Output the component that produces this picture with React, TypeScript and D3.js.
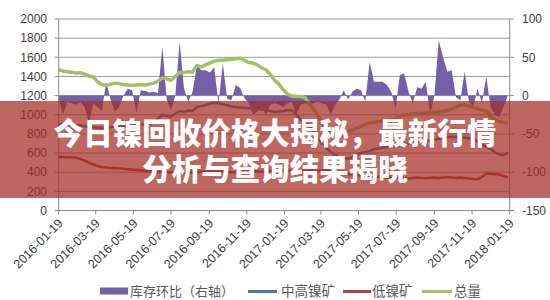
import React from "react";
import * as d3 from "d3";

const startDate = "2016-01-19";
const endDate = "2018-01-19";
const tickLabels = [
  "2016-01-19","2016-03-19","2016-05-19","2016-07-19","2016-09-19","2016-11-19",
  "2017-01-19","2017-03-19","2017-05-19","2017-07-19","2017-09-19","2017-11-19","2018-01-19",
];
const leftTicks = [0, 200, 400, 600, 800, 1000, 1200, 1400, 1600, 1800, 2000];
const rightTicks = [-150, -100, -50, 0, 50, 100];

// weekly observations starting 2016-01-19
const totalSeries = [
  1470,1455,1450,1445,1435,1440,1425,1405,1395,1345,1315,1305,1320,1330,1325,1315,1310,1305,1310,1315,
  1310,1320,1330,1350,1385,1375,1360,1400,1445,1440,1450,1445,1515,1500,1520,1540,1560,1570,1570,1575,
  1580,1585,1590,1570,1545,1540,1520,1490,1470,1420,1360,1320,1260,1215,1195,1190,1190,1180,1120,1060,
  1000,920,840,820,830,825,835,830,840,860,880,900,915,920,930,935,940,945,960,985,
  1000,1000,1010,1015,1010,1020,1025,1020,1030,1035,1045,1060,1080,1100,1105,1090,1075,1060,1050,1040,
  985,945,930,920,915,
];
const midHighSeries = [
  900,895,890,890,885,890,880,875,870,865,860,855,870,880,885,880,885,890,895,900,
  895,905,920,960,1000,990,980,1010,1040,1030,1045,1040,1080,1090,1100,1115,1125,1120,1110,1100,
  1085,1080,1075,1070,1070,1065,1060,1055,1050,1040,1030,1035,1040,1050,1045,1000,950,920,890,830,
  760,700,650,610,580,560,545,540,560,590,600,610,620,640,650,655,660,665,670,680,
  690,700,705,715,720,725,730,740,750,755,765,770,765,760,760,755,740,720,690,665,
  640,610,585,580,600,
];
const lowSeries = [
  560,558,555,555,550,540,520,500,480,465,455,450,445,445,440,435,430,425,425,420,
  415,410,408,405,405,400,400,398,400,402,400,398,400,405,405,410,410,408,405,405,
  400,400,405,405,410,410,408,405,410,415,420,418,420,418,415,420,418,415,420,418,
  415,420,420,410,400,395,385,380,375,370,365,360,358,355,352,350,345,345,340,342,
  340,335,340,345,340,338,342,345,340,345,350,345,340,345,340,335,330,325,350,385,
  385,380,375,360,345,
];
const inventoryRatio = [
  -5,-25,-8,-10,-12,-8,-15,-36,-10,-15,-20,18,-5,-21,-15,0,9,7,-23,7,
  6,4,5,3,64,-5,-19,0,70,10,-8,5,40,33,33,30,37,-10,42,-4,
  -6,14,10,-3,-10,-25,-20,-15,-25,-12,-10,-12,-15,-10,-8,-25,-12,-10,-12,-10,
  -8,-10,-12,-25,-12,-5,7,-5,5,9,7,-8,44,18,18,18,14,5,-17,27,
  29,5,-10,11,9,18,-25,0,72,50,31,33,-2,-6,31,-8,-15,9,-10,25,
  -15,-25,-28,-15,0,
];

const legendItems = ["库存环比（右轴）", "中高镍矿", "低镍矿", "总量"];
const titleLines = ["今日镍回收价格大揭秘，最新行情", "分析与查询结果揭晓"];

const COLORS = {
  purple: "#7360a8",
  mid: "#4a78ad",
  low: "#b0443f",
  total: "#a3c065",
};

export default function App() {
  const W = 550, H = 300;
  const parse = d3.timeParse("%Y-%m-%d");
  const t0 = parse(startDate) as Date;
  const t1 = parse(endDate) as Date;
  const x = d3.scaleTime().domain([t0, t1]).range([58.7, 509.7]);
  const yL = d3.scaleLinear().domain([0, 2000]).range([210.5, 19]);
  const yR = d3.scaleLinear().domain([-150, 100]).range([210.5, 19]);
  const dates = totalSeries.map((_, i) => d3.timeDay.offset(t0, i * 7));

  const lineL = d3
    .line<number>()
    .x((_, i) => x(dates[i]))
    .y((d) => yL(d))
    .curve(d3.curveLinear);
  const area = d3
    .area<number>()
    .x((_, i) => x(dates[i]))
    .y0(yR(0))
    .y1((d) => yR(d));

  const font = "'Liberation Sans', Arial, sans-serif";
  const cjk = "'Noto Sans CJK SC', sans-serif";
  const axisColor = "#8a8a8a";
  const textColor = "#404040";

  return (
    <svg
      width={W}
      height={H}
      style={{ position: "absolute", left: 0, top: 0, background: "#fff" }}
    >
      <rect x={0} y={0} width={W} height={H} fill="#fff" />
      {leftTicks.filter((t) => t > 0).map((t) => (
        <line key={t} x1={58.7} x2={509.7} y1={yL(t)} y2={yL(t)} stroke="#9a9a9a" strokeWidth={1} />
      ))}
      <path d={area(inventoryRatio) || ""} fill={COLORS.purple} />
      <path d={lineL(lowSeries) || ""} fill="none" stroke={COLORS.low} strokeWidth={2.5} strokeLinejoin="round" />
      <path d={lineL(midHighSeries) || ""} fill="none" stroke={COLORS.mid} strokeWidth={2.5} strokeLinejoin="round" />
      <path d={lineL(totalSeries) || ""} fill="none" stroke={COLORS.total} strokeWidth={3.5} strokeLinejoin="round" />

      <line x1={58.7} x2={58.7} y1={19} y2={210.5} stroke={axisColor} />
      <line x1={509.7} x2={509.7} y1={19} y2={210.5} stroke={axisColor} />
      <line x1={58.7} x2={509.7} y1={210.5} y2={210.5} stroke={axisColor} />
      {leftTicks.map((t) => (
        <g key={"l" + t}>
          <line x1={54.7} x2={58.7} y1={yL(t)} y2={yL(t)} stroke={axisColor} />
          <text x={47} y={yL(t)} dy="0.35em" textAnchor="end" fontFamily={font} fontSize={12} fill={textColor}>
            {t}
          </text>
        </g>
      ))}
      {rightTicks.map((t) => (
        <g key={"r" + t}>
          <line x1={509.7} x2={513.7} y1={yR(t)} y2={yR(t)} stroke={axisColor} />
          <text x={522} y={yR(t)} dy="0.35em" textAnchor="start" fontFamily={font} fontSize={12} fill={textColor}>
            {t}
          </text>
        </g>
      ))}
      {tickLabels.map((lab) => {
        const tx = x(parse(lab) as Date);
        return (
          <g key={lab}>
            <line x1={tx} x2={tx} y1={210.5} y2={214.5} stroke={axisColor} />
            <text
              transform={`translate(${tx + 5},224) rotate(-45)`}
              textAnchor="end"
              fontFamily={font}
              fontSize={12.5}
              fill={textColor}
            >
              {lab}
            </text>
          </g>
        );
      })}

      <rect x={100} y={287.5} width={28} height={7} fill={COLORS.purple} />
      <text x={130} y={296} fontFamily={cjk} fontSize={13} fill="#595959">{legendItems[0]}</text>
      <line x1={248} x2={277} y1={291.5} y2={291.5} stroke={COLORS.mid} strokeWidth={3} />
      <text x={281} y={296} fontFamily={cjk} fontSize={13.5} fill="#595959">{legendItems[1]}</text>
      <line x1={343} x2={371} y1={291.5} y2={291.5} stroke={COLORS.low} strokeWidth={3} />
      <text x={372} y={296} fontFamily={cjk} fontSize={13.5} fill="#595959">{legendItems[2]}</text>
      <line x1={422} x2={452} y1={291.5} y2={291.5} stroke={COLORS.total} strokeWidth={3} />
      <text x={454} y={296} fontFamily={cjk} fontSize={13.5} fill="#595959">{legendItems[3]}</text>

      <rect x={0} y={101} width={W} height={97} fill="rgb(165,45,35)" fillOpacity={0.72} />
      {titleLines.map((s, i) => (
        <text
          key={i}
          x={275}
          y={143.5 + i * 36.5}
          textAnchor="middle"
          fontFamily={cjk}
          fontWeight={900}
          fontSize={29.5}
          fill="#fff"
        >
          {s}
        </text>
      ))}
    </svg>
  );
}
